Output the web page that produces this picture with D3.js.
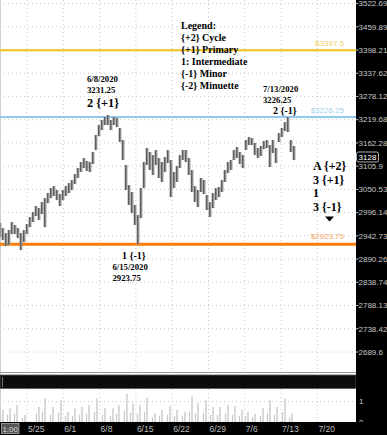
<!DOCTYPE html>
<html>
<head>
<meta charset="utf-8">
<script src="https://cdn.jsdelivr.net/npm/d3@7"></script>
<style>
  body { margin: 0; background: #fff; }
  svg { display: block; }
</style>
</head>
<body>
<svg id="chart"></svg>
<script>
// hourly price range, sampled: [trading day since 5/25, high, low]
const bars = [
  [-3.72, 2972, 2940], [-3.31, 2960.5, 2933], [-2.89, 2949, 2919.5], [-2.48, 2956, 2922],
  [-2.07, 2974.3, 2946.8], [-1.65, 2967.4, 2946.8], [-1.24, 2960.5, 2937.7], [-0.83, 2949, 2910.5],
  [-0.41, 2956, 2928.6], [0, 2969.7, 2946.8], [0.41, 2985.9, 2962.8], [0.83, 2997.5, 2974.3],
  [1.24, 3011.5, 2988.2], [1.65, 3006.8, 2978.9], [2.07, 3020.8, 2992.8], [2.48, 3030.1, 2962.8],
  [2.89, 3041.9, 3018.4], [3.31, 3053.7, 3030.1], [3.72, 3058.4, 3034.9], [4.13, 3049, 3025.4],
  [4.55, 3039.6, 3011.5], [4.96, 3049, 3025.4], [5.37, 3058.4, 3034.9], [5.79, 3065.5, 3041.9],
  [6.20, 3072.7, 3049], [6.61, 3087, 3063.2], [7.02, 3101.4, 3077.5], [7.44, 3115.8, 3091.8],
  [7.85, 3125.4, 3101.4], [8.26, 3118.2, 3094.2], [8.68, 3115.8, 3091.8], [9.09, 3140, 3111],
  [9.50, 3181.7, 3144.9], [9.92, 3206.4, 3179.2], [10.33, 3218.9, 3194], [10.74, 3226.3, 3206.4],
  [11.16, 3231.25, 3206.4], [11.57, 3218.9, 3194], [11.98, 3226.3, 3206.4], [12.40, 3223.9, 3201.4],
  [12.81, 3199, 3164.5], [13.22, 3169.4, 3120.6], [13.64, 3108.6, 3049], [14.05, 3060.8, 3013.8],
  [14.46, 3044.3, 2995.1], [14.88, 3013.8, 2967.4], [15.29, 2990.5, 2923.75], [15.70, 3053.7, 2983.5],
  [16.12, 3115.8, 3053.7], [16.53, 3149.8, 3108.6], [16.94, 3140, 3096.6], [17.36, 3132.7, 3084.6],
  [17.77, 3144.9, 3108.6], [18.18, 3125.4, 3077.5], [18.60, 3115.8, 3068], [19.01, 3127.9, 3091.8],
  [19.42, 3144.9, 3113.4], [19.83, 3120.6, 3032.5], [20.25, 3091.8, 3053.7], [20.66, 3106.2, 3068],
  [21.07, 3132.7, 3101.4], [21.49, 3144.9, 3120.6], [21.90, 3144.9, 3115.8], [22.31, 3125.4, 3084.6],
  [22.73, 3096.6, 3044.3], [23.14, 3058.4, 3020.8], [23.55, 3049, 3009.1], [23.97, 3077.5, 3044.3],
  [24.38, 3072.7, 3039.6], [24.79, 3037.2, 3002.1], [25.21, 3020.8, 2985.9], [25.62, 3041.9, 3006.8],
  [26.03, 3053.7, 3025.4], [26.45, 3056.1, 3032.5], [26.86, 3072.7, 3044.3], [27.27, 3096.6, 3068],
  [27.69, 3115.8, 3089.4], [28.10, 3120.6, 3096.6], [28.51, 3144.9, 3120.6], [28.93, 3152.2, 3125.4],
  [29.34, 3140, 3111], [29.75, 3132.7, 3101.4], [30.17, 3169.4, 3144.9], [30.58, 3176.8, 3157.1],
  [30.99, 3174.3, 3157.1], [31.40, 3162, 3132.7], [31.82, 3149.8, 3125.4], [32.23, 3154.7, 3130.3],
  [32.64, 3166.9, 3147.3], [33.06, 3169.4, 3149.8], [33.47, 3157.1, 3103.8], [33.88, 3169.4, 3137.6],
  [34.30, 3149.8, 3113.4], [34.71, 3186.6, 3164.5], [35.12, 3199, 3176.8], [35.54, 3213.9, 3191.5],
  [35.95, 3226.25, 3189.1], [36.36, 3169.4, 3140], [36.78, 3154.7, 3120.6]
];
const lastPrice = 3128;

// volume spikes: [trading day, open spike, smaller spike]
const volume = [
  [-3.31, 0.59, 0.3], [-2.34, 0.67, 0.35], [-1.38, 0.83, 0.4], [-0.28, 0.34, 0.2],
  [1.65, 0.75, 0.4], [2.48, 1.16, 0.5], [3.58, 0.75, 0.35], [4.68, 1.07, 0.45],
  [5.65, 0.50, 0.3], [6.61, 0.67, 0.3], [7.58, 0.75, 0.35], [8.54, 0.83, 0.4],
  [9.64, 1.16, 0.5], [10.74, 0.67, 0.35], [11.85, 0.67, 0.3], [12.67, 0.83, 0.4],
  [13.77, 1.37, 0.55], [14.60, 0.91, 0.45], [15.56, 0.83, 0.4], [16.53, 1.2, 0.5],
  [17.63, 0.42, 0.25], [18.60, 0.59, 0.3], [19.70, 0.78, 0.35], [20.66, 0.59, 0.3],
  [21.76, 0.5, 0.3], [22.73, 1.27, 0.5], [23.55, 0.91, 0.4], [24.66, 1.07, 0.45],
  [25.62, 0.75, 0.35], [26.58, 0.75, 0.35], [27.69, 0.83, 0.4], [28.65, 0.78, 0.35],
  [29.61, 0.59, 0.3], [30.44, 0.5, 0.3], [31.40, 0.42, 0.25], [32.51, 0.67, 0.3],
  [33.47, 1.07, 0.45], [34.44, 0.75, 0.35], [35.54, 1.16, 0.5], [36.50, 0.42, 0.25]
];

const weekTicks = [0, 5, 10, 15, 20, 25, 30, 35, 40];
const weekLabels = ["5/25", "6/1", "6/8", "6/15", "6/22", "6/29", "7/6", "7/13", "7/20"];
const priceTicks = [3522.69, 3459.89, 3398.21, 3337.62, 3278.12, 3219.68, 3162.28, 3105.9,
  3050.53, 2996.14, 2942.73, 2890.26, 2838.74, 2788.13, 2738.42, 2689.6];

const levels = [
  { value: 3397.5, label: "$3397.5", line: "#f2c21a", text: "#efcf62", width: 2 },
  { value: 3226.25, label: "$3226.25", line: "#8fcbef", text: "#9fd0ee", width: 2 },
  { value: 2923.75, label: "$2923.75", line: "#ff7d0a", text: "#f6a45c", width: 3 }
];

const legendLines = ["Legend:", "{+2} Cycle", "{+1} Primary", "1: Intermediate", "{-1} Minor", "{-2} Minuette"];
const peakNotes = ["6/8/2020", "3231.25"];
const lowNotes = ["6/15/2020", "2923.75"];
const lastNotes = ["7/13/2020", "3226.25"];
const countLines = ["A {+2}", "3 {+1}", "1", "3 {-1}"];

const W = 387, H = 435;
const plotR = 356, priceBottom = 372, volTop = 389, volBottom = 422;

const svg = d3.select("#chart").attr("width", W).attr("height", H)
  .style("font-family", "'Liberation Sans', Arial, sans-serif");

const x = d3.scaleLinear().domain([0, 35]).range([27, 281.1]);
const y = d3.scaleLog().domain([2689.6, 3398.21]).range([352, 50]);
const yv = d3.scaleLinear().domain([0, 1]).range([volBottom, 401.5]);

svg.append("defs").append("clipPath").attr("id", "pclip")
  .append("rect").attr("x", 0).attr("y", 0).attr("width", plotR).attr("height", priceBottom);

// grid
const grid = svg.append("g").attr("stroke", "#c8c8c8").attr("stroke-dasharray", "1,3");
grid.selectAll(".hg").data(priceTicks).join("line")
  .attr("x1", 0).attr("x2", plotR).attr("y1", d => y(d)).attr("y2", d => y(d));
grid.selectAll(".vg").data(weekTicks).join("line")
  .attr("x1", d => x(d)).attr("x2", d => x(d)).attr("y1", 0).attr("y2", priceBottom);
grid.selectAll(".vg2").data(weekTicks).join("line")
  .attr("x1", d => x(d)).attr("x2", d => x(d)).attr("y1", volTop).attr("y2", volBottom);
grid.append("line").attr("x1", 0).attr("x2", plotR).attr("y1", yv(1)).attr("y2", yv(1));

svg.append("line").attr("x1", 0.5).attr("x2", 0.5).attr("y1", 0).attr("y2", volBottom)
  .attr("stroke", "#d0d0d0");

// level lines
const lv = svg.append("g");
lv.selectAll("line").data(levels).join("line")
  .attr("x1", 0).attr("x2", plotR).attr("y1", d => y(d.value)).attr("y2", d => y(d.value))
  .attr("stroke", d => d.line).attr("stroke-width", d => d.width);
lv.selectAll("text").data(levels).join("text")
  .attr("x", 344).attr("y", d => y(d.value) - (d.width > 2 ? 5 : 4))
  .attr("text-anchor", "end").attr("font-size", 8).attr("fill", d => d.text)
  .text(d => d.label);

// price bars
const pg = svg.append("g").attr("clip-path", "url(#pclip)");
pg.selectAll(".body").data(bars).join("line")
  .attr("x1", d => x(d[0])).attr("x2", d => x(d[0]))
  .attr("y1", d => y(d[1])).attr("y2", d => y(d[2]))
  .attr("stroke", "#8e8e8e").attr("stroke-width", 2.8);
pg.selectAll(".wick").data(bars).join("line")
  .attr("x1", d => x(d[0]) - 0.5).attr("x2", d => x(d[0]) - 0.5)
  .attr("y1", d => y(d[1])).attr("y2", d => y(d[2]))
  .attr("stroke", "#2a2a2a").attr("stroke-width", 0.6).attr("stroke-opacity", 0.8);

// divider band
svg.append("line").attr("x1", 0).attr("x2", plotR).attr("y1", priceBottom + 0.5).attr("y2", priceBottom + 0.5)
  .attr("stroke", "#9a9a9a");
svg.append("rect").attr("x", 0).attr("y", 375).attr("width", plotR).attr("height", 13.5)
  .attr("fill", "#0c0c0c").attr("stroke", "#5a5a5a").attr("stroke-width", 0.8);
svg.append("line").attr("x1", 2.5).attr("x2", 2.5).attr("y1", 377).attr("y2", 387)
  .attr("stroke", "#777");

// volume
const vg = svg.append("g").attr("stroke", "#c9c9c9");
vg.selectAll(".vm").data(volume).join("line")
  .attr("x1", d => x(d[0])).attr("x2", d => x(d[0]))
  .attr("y1", d => yv(d[1])).attr("y2", volBottom).attr("stroke-width", 1.4);
vg.selectAll(".vs").data(volume).join("line")
  .attr("x1", d => x(d[0]) - 2.5).attr("x2", d => x(d[0]) - 2.5)
  .attr("y1", d => yv(d[2])).attr("y2", volBottom).attr("stroke-width", 1.2);

// right axis panel
svg.append("rect").attr("x", plotR).attr("y", 0).attr("width", W - plotR).attr("height", volBottom)
  .attr("fill", "#000");
const ax = svg.append("g");
ax.selectAll("line").data(priceTicks).join("line")
  .attr("x1", plotR).attr("x2", plotR + 2.5).attr("y1", d => y(d)).attr("y2", d => y(d))
  .attr("stroke", "#bbb");
ax.selectAll("text").data(priceTicks).join("text")
  .attr("x", plotR + 2.5).attr("y", d => y(d)).attr("dy", "0.35em")
  .attr("font-size", 8).attr("fill", "#c8c8c8").text(d => d);

const vt = svg.append("g");
vt.selectAll("text").data([1, 0]).join("text")
  .attr("x", plotR + 3).attr("y", d => yv(d)).attr("dy", "0.35em")
  .attr("font-size", 8).attr("fill", "#c8c8c8").text(d => d);

// last price marker
svg.append("rect").attr("x", plotR + 0.5).attr("y", y(lastPrice) - 5).attr("width", 22).attr("height", 10)
  .attr("rx", 2).attr("fill", "#000").attr("stroke", "#ddd").attr("stroke-width", 0.8);
svg.append("text").attr("x", plotR + 11.5).attr("y", y(lastPrice)).attr("dy", "0.35em")
  .attr("text-anchor", "middle").attr("font-size", 8).attr("fill", "#fff").text(lastPrice);

// bottom time axis
svg.append("rect").attr("x", 0).attr("y", volBottom).attr("width", W).attr("height", H - volBottom)
  .attr("fill", "#000");
svg.selectAll(".xl").data(weekTicks).join("text")
  .attr("x", d => x(d) + 1).attr("y", 432)
  .attr("font-size", 8.5).attr("fill", "#bdbdbd")
  .text((d, i) => weekLabels[i]);
svg.append("rect").attr("x", 1.5).attr("y", 423.5).attr("width", 17.5).attr("height", 10)
  .attr("fill", "#555").attr("stroke", "#aaa").attr("stroke-width", 0.8);
svg.append("text").attr("x", 10.2).attr("y", 431.8).attr("text-anchor", "middle")
  .attr("font-size", 8).attr("fill", "#ddd").text("1:00");

// annotations
const serif = "'Liberation Serif', 'Times New Roman', serif";
const ann = svg.append("g").style("font-family", serif).attr("font-weight", "bold").attr("fill", "#000");

ann.selectAll(".lg").data(legendLines).join("text")
  .attr("x", 181).attr("y", (d, i) => 28.5 + i * 12.1)
  .attr("font-size", 10).text(d => d);

ann.selectAll(".pk").data(peakNotes).join("text")
  .attr("x", 87).attr("y", (d, i) => 82 + i * 10.5).attr("font-size", 8.7).text(d => d);
ann.append("text").attr("x", 87).attr("y", 106.5).attr("font-size", 12.3).text("2 {+1}");

ann.selectAll(".ls").data(lastNotes).join("text")
  .attr("x", 263).attr("y", (d, i) => 92 + i * 11).attr("font-size", 8.7).text(d => d);
ann.append("text").attr("x", 273).attr("y", 113.5).attr("font-size", 10).text("2 {-1}");

ann.append("text").attr("x", 122).attr("y", 259).attr("font-size", 10).text("1 {-1}");
ann.selectAll(".lw").data(lowNotes).join("text")
  .attr("x", 112.5).attr("y", (d, i) => 269.5 + i * 11.5).attr("font-size", 8.7).text(d => d);

ann.selectAll(".ct").data(countLines).join("text")
  .attr("x", 313).attr("y", (d, i) => 170 + i * 13.7).attr("font-size", 12).text(d => d);
ann.append("path").attr("d", "M325,216.5 L334,216.5 L329.5,221.5 Z").attr("fill", "#000");
</script>
</body>
</html>
